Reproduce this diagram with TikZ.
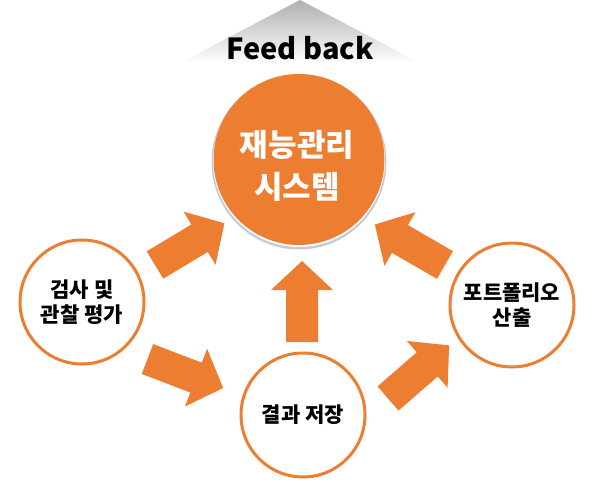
\documentclass[tikz,border=0pt]{standalone}
\usepackage{fontspec}
\newfontfamily\kr{Noto Sans CJK KR}
\definecolor{orng}{HTML}{ED7D31}
\definecolor{ringgray}{HTML}{C5CBD6}
\tikzset{
  barrow/.pic={\fill[orng] (0,-16) -- (52,-16) -- (52,-31) -- (81,0) -- (52,31) -- (52,16) -- (0,16) -- cycle;},
  small/.style={circle, draw=orng, line width=3pt, fill=white, minimum size=124pt, inner sep=0pt, align=center,
    font=\kr\bfseries\fontsize{21}{25}\selectfont},
}
\begin{document}
\begin{tikzpicture}[x=1pt,y=-1pt]
\useasboundingbox (0,0) rectangle (597,492);
% feedback triangle
\shade[top color=gray!62, bottom color=white] (300,0) -- (420,63) -- (180,63) -- cycle;
\node[font=\kr\bfseries\fontsize{29}{32}\selectfont, anchor=base, inner sep=0pt] (fb) at (300,60) {Feed back};
% main circle
\fill[ringgray] (299,162) circle (87.5);
\fill[white] (299,161) circle (86);
\node[circle, fill=orng, minimum size=171pt, inner sep=0pt] (main) at (299,159.5) {};
\node[font=\kr\bfseries\fontsize{31}{42}\selectfont, text=white, align=center, inner sep=0pt] (mtxt) at (297,166) {재능관리\\시스템};
% small circles
\node[small] (insp) at (82,302) {검사 및\\관찰 평가};
\node[small] (port) at (512,305) {포트폴리오\\산출};
\node[small] (save) at (303,415) {결과 저장};
% block arrows
\pic[rotate=31] (a1) at (155,265) {barrow};
\pic[rotate=150] (a2) at (445,265) {barrow};
\pic[rotate=90] (a3) at (302,342) {barrow};
\pic[rotate=-21] (a4) at (147.5,359) {barrow};
\pic[rotate=41] (a5) at (388,398.5) {barrow};
\end{tikzpicture}
\end{document}
